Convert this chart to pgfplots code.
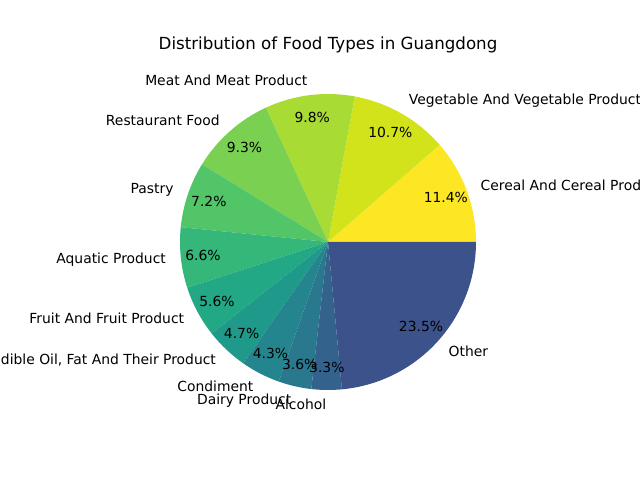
\documentclass[border=0pt]{standalone}
\usepackage{pgfplots}
\usepackage{pgfplotstable}
\pgfplotsset{compat=1.18}
\usepackage{fontspec}
\setmainfont{DejaVu Sans}

\definecolor{C0}{HTML}{FDE725}
\definecolor{C1}{HTML}{D2E21B}
\definecolor{C2}{HTML}{A8DB34}
\definecolor{C3}{HTML}{7AD151}
\definecolor{C4}{HTML}{52C569}
\definecolor{C5}{HTML}{35B779}
\definecolor{C6}{HTML}{22A884}
\definecolor{C7}{HTML}{1F998A}
\definecolor{C8}{HTML}{25858E}
\definecolor{C9}{HTML}{2A788E}
\definecolor{C10}{HTML}{33638D}
\definecolor{C11}{HTML}{3B528B}

\pgfplotstableread[col sep=semicolon]{
label;value;color
Cereal And Cereal Product;11.4;C0
Vegetable And Vegetable Product;10.7;C1
Meat And Meat Product;9.8;C2
Restaurant Food;9.3;C3
Pastry;7.2;C4
Aquatic Product;6.6;C5
Fruit And Fruit Product;5.6;C6
Edible Oil, Fat And Their Product;4.7;C7
Condiment;4.3;C8
Dairy Product;3.6;C9
Alcohol;3.3;C10
Other;23.5;C11
}\piedata

\pgfplotstablegetrowsof{\piedata}
\pgfmathtruncatemacro\lastrow{\pgfplotsretval-1}
\gdef\piewedges{}
\gdef\pielabels{}
\gdef\acc{0}
\foreach \i in {0,...,\lastrow}{%
  \pgfplotstablegetelem{\i}{value}\of\piedata \let\val\pgfplotsretval
  \pgfplotstablegetelem{\i}{color}\of\piedata \let\col\pgfplotsretval
  \pgfplotstablegetelem{\i}{label}\of\piedata \let\lab\pgfplotsretval
  \pgfmathsetmacro\sa{\acc*3.6}%
  \pgfmathsetmacro\ea{(\acc+\val)*3.6}%
  \pgfmathsetmacro\ma{(\sa+\ea)/2}%
  \pgfmathsetmacro\cx{cos(\sa)}%
  \pgfmathsetmacro\cy{sin(\sa)}%
  \pgfmathsetmacro\px{0.85*cos(\ma)}%
  \pgfmathsetmacro\py{0.85*sin(\ma)}%
  \pgfmathsetmacro\lx{1.1*cos(\ma)}%
  \pgfmathsetmacro\ly{1.1*sin(\ma)}%
  \pgfmathparse{cos(\ma)>0 ? "west" : "east"}\let\anc\pgfmathresult
  \xdef\piewedges{\unexpanded\expandafter{\piewedges}%
    \noexpand\fill[\col] (axis cs:0,0) -- (axis cs:\cx,\cy)
      arc[start angle=\sa, end angle=\ea, radius=106.56pt] -- cycle;}%
  \xdef\pielabels{\unexpanded\expandafter{\pielabels}%
    \noexpand\node[font=\noexpand\fontsize{10}{12}\noexpand\selectfont, inner sep=0pt] at (axis cs:\px,\py) {\val\noexpand\%};
    \noexpand\node[font=\noexpand\fontsize{10}{12}\noexpand\selectfont, inner sep=0pt, anchor=\anc] at (axis cs:\lx,\ly) {\unexpanded\expandafter{\lab}};}%
  \pgfmathsetmacro\newacc{\acc+\val}%
  \global\let\acc\newacc
}

\begin{document}
\begin{tikzpicture}
\useasboundingbox (0,0) rectangle (460.8pt,345.6pt);
\clip (0,0) rectangle (460.8pt,345.6pt);
\begin{axis}[
  x=106.56pt, y=106.56pt,
  xmin=-1, xmax=1, ymin=-1, ymax=1,
  hide axis, clip=false,
  anchor=origin, at={(236.16pt,171.36pt)},
]
\piewedges
\pielabels
\end{axis}
\node[font=\fontsize{12}{14.4}\selectfont, inner sep=0pt] at (236.16pt,313.2pt) {Distribution of Food Types in Guangdong};
\end{tikzpicture}
\end{document}
